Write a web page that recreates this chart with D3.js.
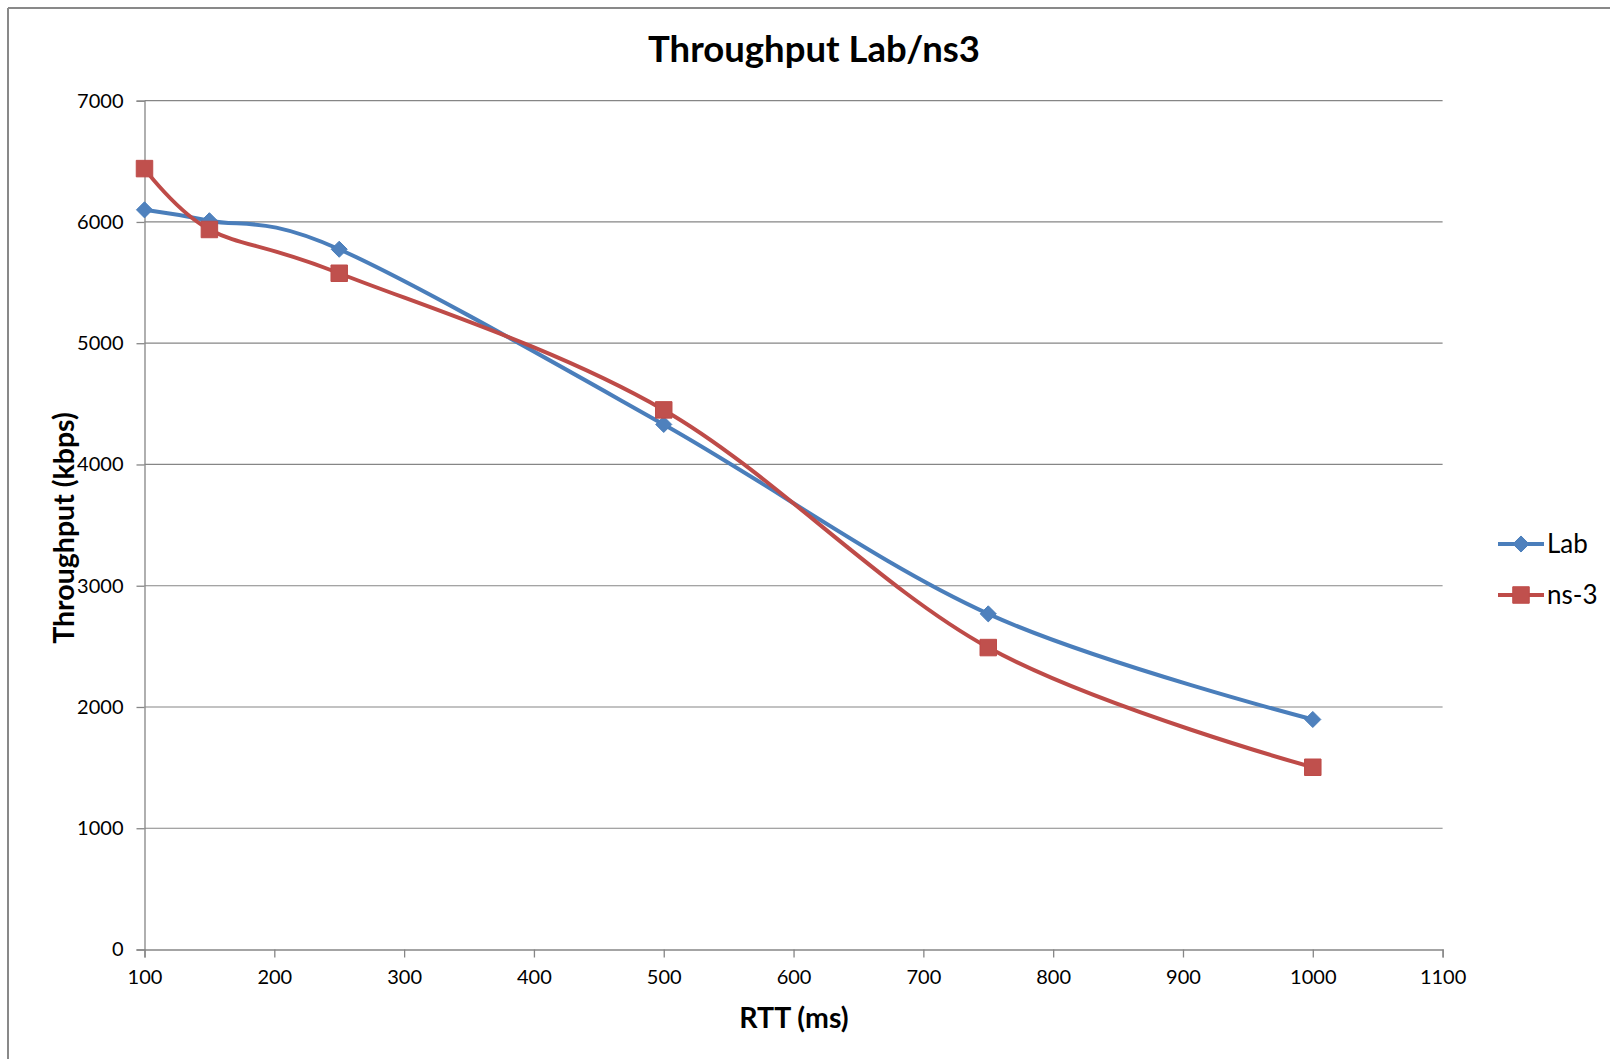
<!DOCTYPE html>
<html>
<head>
<meta charset="utf-8">
<script src="https://cdn.jsdelivr.net/npm/d3@7"></script>
<style>
  html, body { margin: 0; padding: 0; background: #ffffff; }
  svg { display: block; }
</style>
</head>
<body>
<svg id="chart" width="1610" height="1059"></svg>
<script>
// ---- data ----
const rtt = [100, 150, 250, 500, 750, 1000];
const labThroughput = [6100, 6010, 5775, 4330, 2768, 1897];
const ns3Throughput = [6440, 5938, 5577, 4450, 2490, 1503];
const seriesNames = ["Lab", "ns-3"];
const xTicks = [100, 200, 300, 400, 500, 600, 700, 800, 900, 1000, 1100];
const yTicks = [0, 1000, 2000, 3000, 4000, 5000, 6000, 7000];
const titleText = "Throughput Lab/ns3";
const xLabelText = "RTT (ms)";
const yLabelText = "Throughput (kbps)";

// ---- layout ----
const FONT = "Lato, 'Open Sans', sans-serif";
const plotL = 144.5, plotR = 1442.6, plotT = 100.7, plotB = 949.5;
const gridColor = "#868686";
const colors = {
  lineLab: "#4A7EBB", markLab: "#4F81BD",
  lineNs: "#BE4B48", markNs: "#C0504D"
};

const svg = d3.select("#chart");
const x = d3.scaleLinear().domain([100, 1100]).range([plotL, plotR]);
const y = d3.scaleLinear().domain([0, 7000]).range([plotB, plotT]);

// chart border (top and left visible)
svg.append("line").attr("x1", 8).attr("x2", 1610).attr("y1", 8).attr("y2", 8)
  .attr("stroke", "#898989").attr("stroke-width", 2);
svg.append("line").attr("x1", 8).attr("x2", 8).attr("y1", 8).attr("y2", 1059)
  .attr("stroke", "#898989").attr("stroke-width", 2);

// gridlines
svg.append("g").selectAll("line").data(yTicks.filter(d => d > 0)).join("line")
  .attr("x1", plotL).attr("x2", plotR)
  .attr("y1", d => y(d)).attr("y2", d => y(d))
  .attr("stroke", gridColor).attr("stroke-width", 1.2);

// y axis
const yAxis = d3.axisLeft(y).tickValues(yTicks).tickSize(8).tickPadding(13).tickFormat(d3.format("d"));
const gy = svg.append("g").attr("transform", `translate(${plotL},0)`).call(yAxis);
gy.select(".domain").attr("stroke", gridColor).attr("stroke-width", 1.3);
gy.selectAll(".tick line").attr("stroke", gridColor).attr("stroke-width", 1.3);
gy.selectAll(".tick text").attr("font-family", FONT).attr("font-size", 20).attr("fill", "#000");

// x axis
const xAxis = d3.axisBottom(x).tickValues(xTicks).tickSize(8).tickPadding(12).tickFormat(d3.format("d"));
const gx = svg.append("g").attr("transform", `translate(0,${plotB})`).call(xAxis);
gx.select(".domain").attr("stroke", gridColor).attr("stroke-width", 1.3);
gx.selectAll(".tick line").attr("stroke", gridColor).attr("stroke-width", 1.3);
gx.selectAll(".tick text").attr("font-family", FONT).attr("font-size", 20).attr("fill", "#000");

// title & axis labels
svg.append("text").attr("x", 814).attr("y", 62).attr("text-anchor", "middle")
  .attr("font-family", FONT).attr("font-weight", "bold").attr("font-size", 36.5)
  .text(titleText);
svg.append("text").attr("x", 794).attr("y", 1028).attr("text-anchor", "middle")
  .attr("font-family", FONT).attr("font-weight", "bold").attr("font-size", 28.5)
  .text(xLabelText);
svg.append("text").attr("transform", "translate(74,528) rotate(-90)").attr("text-anchor", "middle")
  .attr("font-family", FONT).attr("font-weight", "bold").attr("font-size", 28.5)
  .text(yLabelText);

// lines
const line = d3.line().curve(d3.curveCardinal.tension(0)).x(d => x(d[0])).y(d => y(d[1]));
const labData = rtt.map((r, i) => [r, labThroughput[i]]);
const nsData = rtt.map((r, i) => [r, ns3Throughput[i]]);

svg.append("path").datum(labData).attr("d", line).attr("fill", "none")
  .attr("stroke", colors.lineLab).attr("stroke-width", 4).attr("stroke-linejoin", "round");
svg.append("path").datum(nsData).attr("d", line).attr("fill", "none")
  .attr("stroke", colors.lineNs).attr("stroke-width", 4).attr("stroke-linejoin", "round");

const diamond = d3.symbol().type(d3.symbolDiamond2).size(165);
const square = d3.symbol().type(d3.symbolSquare).size(272);

svg.append("g").selectAll("path").data(labData).join("path")
  .attr("d", diamond).attr("transform", d => `translate(${x(d[0])},${y(d[1])})`)
  .attr("fill", colors.markLab).attr("stroke", colors.lineLab).attr("stroke-width", 1);
svg.append("g").selectAll("path").data(nsData).join("path")
  .attr("d", square).attr("transform", d => `translate(${x(d[0])},${y(d[1])})`)
  .attr("fill", colors.markNs).attr("stroke", colors.lineNs).attr("stroke-width", 1);

// legend
const legend = svg.append("g");
const legItems = [
  { name: seriesNames[0], line: colors.lineLab, mark: colors.markLab, sym: diamond, y: 544 },
  { name: seriesNames[1], line: colors.lineNs, mark: colors.markNs, sym: square, y: 595 }
];
legItems.forEach(it => {
  legend.append("line").attr("x1", 1498).attr("x2", 1544).attr("y1", it.y).attr("y2", it.y)
    .attr("stroke", it.line).attr("stroke-width", 4);
  legend.append("path").attr("d", it.sym).attr("transform", `translate(1521,${it.y})`)
    .attr("fill", it.mark).attr("stroke", it.line).attr("stroke-width", 1);
  legend.append("text").attr("x", 1547).attr("y", it.y + 9)
    .attr("font-family", FONT).attr("font-size", 26).attr("fill", "#000").text(it.name);
});
</script>
</body>
</html>
